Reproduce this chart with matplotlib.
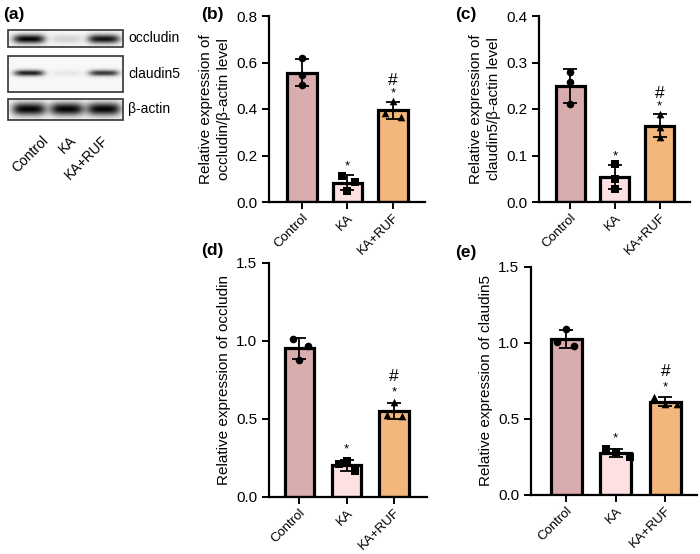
import numpy as np
import matplotlib
matplotlib.use('Agg')
import matplotlib.pyplot as plt
from matplotlib.patches import Rectangle

plt.rcParams['font.family'] = ['Liberation Sans', 'DejaVu Sans']

# groups
groups = ['Control', 'KA', 'KA+RUF']

# (b) occludin / beta-actin
occ_actin = [[0.618, 0.545, 0.505], [0.113, 0.087, 0.049], [0.436, 0.384, 0.364]]
# (c) claudin5 / beta-actin
cld_actin = [[0.280, 0.259, 0.210], [0.082, 0.050, 0.029], [0.189, 0.162, 0.140]]
# (d) occludin
occ_rel = [[1.01, 0.97, 0.88], [0.214, 0.229, 0.165], [0.61, 0.523, 0.519]]
# (e) claudin5
cld_rel = [[1.095, 1.004, 0.982], [0.302, 0.282, 0.249], [0.647, 0.599, 0.599]]

# significance marks per group
stars = ['', '*', '*']
hashes = ['', '', '#']

# western blot band intensities (Control, KA, KA+RUF)
blot_names = ['occludin', 'claudin5', 'β-actin']
band_occludin = [1.0, 0.15, 0.95]
band_claudin5 = [0.9, 0.07, 0.8]
band_actin = [1.0, 1.0, 1.0]

bar_colors = ['#d9acae', '#fde1e2', '#f3b77c']
markers = ['o', 's', '^']

W, H = 700, 554
fig = plt.figure(figsize=(7.0, 5.54), dpi=100)


def px_axes(left, right, top, bottom):
    return fig.add_axes([left / W, 1 - bottom / H, (right - left) / W, (bottom - top) / H])


def bar_panel(ax, data, jit, ymax, yticks, ylabel, xlim, width):
    x = np.arange(len(groups))
    means = [np.mean(d) for d in data]
    sds = [np.std(d, ddof=1) for d in data]
    ax.bar(x, means, width=width, color=bar_colors, edgecolor='black', linewidth=2.3, zorder=2)
    ax.errorbar(x, means, yerr=sds, fmt='none', ecolor='black', elinewidth=1.3,
                capsize=5, capthick=1.3, zorder=3)
    for i, d in enumerate(data):
        ax.scatter(x[i] + np.array(jit[i]), d, marker=markers[i], s=30, color='black',
                   zorder=4, linewidths=0)
        top = means[i] + sds[i]
        if stars[i]:
            ax.text(x[i], top + 0.045 * ymax, stars[i], ha='center', va='center', fontsize=9.5)
        if hashes[i]:
            ax.text(x[i], top + 0.115 * ymax, hashes[i], ha='center', va='center', fontsize=12.5)
    ax.set_ylim(0, ymax)
    ax.set_xlim(*xlim)
    ax.set_yticks(yticks)
    ax.set_yticklabels(['%.1f' % t for t in yticks], fontsize=11)
    ax.set_xticks(x)
    ax.set_xticklabels(groups, rotation=45, ha='right', rotation_mode='anchor', fontsize=9.5)
    ax.set_ylabel(ylabel, fontsize=11, labelpad=4, linespacing=1.35)
    for s in ['top', 'right']:
        ax.spines[s].set_visible(False)
    for s in ['left', 'bottom']:
        ax.spines[s].set_linewidth(1.6)
    ax.tick_params(width=1.4, length=5, direction='out')
    ax.tick_params(axis='x', pad=2)


ax_b = px_axes(269, 425, 16, 202)
bar_panel(ax_b, occ_actin,
          [[0, 0, 0], [-0.13, 0.17, 0.0], [0.0, -0.17, 0.17]],
          0.8, [0.0, 0.2, 0.4, 0.6, 0.8],
          'Relative expression of\noccludin/β-actin level', (-0.72, 2.7), 0.65)
ax_c = px_axes(539, 690, 16, 202)
bar_panel(ax_c, cld_actin,
          [[0, 0, 0], [0, 0, 0], [0, 0, 0]],
          0.4, [0.0, 0.1, 0.2, 0.3, 0.4],
          'Relative expression of\nclaudin5/β-actin level', (-0.7, 2.68), 0.65)
ax_d = px_axes(269, 427, 263, 497)
bar_panel(ax_d, occ_rel,
          [[-0.13, 0.18, 0.0], [-0.15, 0.0, 0.17], [0.0, -0.15, 0.17]],
          1.5, [0.0, 0.5, 1.0, 1.5],
          'Relative expression of occludin', (-0.64, 2.7), 0.62)
ax_e = px_axes(531, 697, 267, 495)
bar_panel(ax_e, cld_rel,
          [[0.0, -0.18, 0.16], [-0.2, 0.0, 0.28], [-0.22, 0.0, 0.24]],
          1.5, [0.0, 0.5, 1.0, 1.5],
          'Relative expression of claudin5', (-0.71, 2.64), 0.63)

# western blot panel drawn in pixel coordinates
ax_a = fig.add_axes([0, 0, 1, 1], zorder=-1)
ax_a.set_xlim(0, W)
ax_a.set_ylim(H, 0)
ax_a.axis('off')

lanes = [29, 67, 104]
boxes = [(30, 47, 39, 4.5, 16, band_occludin),
         (56, 92, 73, 3.0, 15, band_claudin5),
         (99, 120, 109, 6.5, 17, band_actin)]
bx0, bx1 = 8, 123
for (y0, y1, yc, wy, wx, inten), name in zip(boxes, blot_names):
    xs = np.linspace(bx0, bx1, 300)
    ys = np.linspace(y0, y1, 80)
    X, Y = np.meshgrid(xs, ys)
    dark = np.zeros_like(X)
    for cx, a in zip(lanes, inten):
        dark += a * np.exp(-(np.abs(X - cx) / wx) ** 4) * np.exp(-((Y - yc) / wy) ** 2)
    img = 0.97 - 0.95 * np.clip(dark, 0, 1)
    ax_a.imshow(img, cmap='gray', vmin=0, vmax=1, extent=(bx0, bx1, y1, y0),
                aspect='auto', interpolation='bilinear')
    ax_a.add_patch(Rectangle((bx0, y0), bx1 - bx0, y1 - y0, fill=False,
                             edgecolor='#333333', linewidth=1.2))
    ax_a.text(128, (y0 + y1) / 2, name, ha='left', va='center', fontsize=10)

for lx, g in zip([41, 69, 101], groups):
    ax_a.text(lx, 133, g, rotation=45, ha='right', va='top',
              rotation_mode='anchor', fontsize=10)

# panel letters
for lx, ly, lab in [(3, 14, '(a)'), (201, 14, '(b)'), (455, 14, '(c)'),
                    (201, 251, '(d)'), (455, 252, '(e)')]:
    ax_a.text(lx, ly, lab, ha='left', va='center', fontsize=12.5, fontweight='bold')

fig.savefig('out.png', dpi=100)
